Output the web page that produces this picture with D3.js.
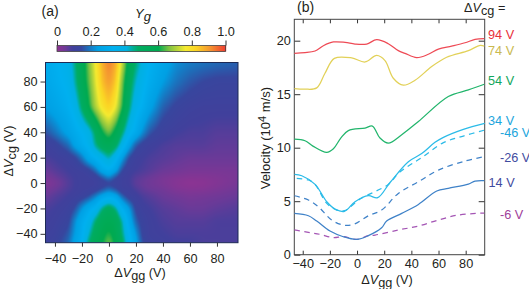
<!DOCTYPE html>
<html>
<head>
<meta charset="utf-8">
<script src="https://cdn.jsdelivr.net/npm/d3@7"></script>
<style>
    html, body { margin: 0; padding: 0; background: #fff; }
    svg { display: block; }
    text { font-family: "Liberation Sans", Arial, sans-serif; fill: #231f20; }
</style>
</head>
<body>
<div id="chart"></div>
<script>
// (a) map on a hand picked grid
const vggGrid = [-47, -40, -30, -25, -20, -15, -10, -5, 0, 5, 10, 15, 20, 25, 30, 40, 50, 60, 70, 80, 95];
const vcgGrid = [95, 80, 60, 40, 30, 20, 10, 5, 0, -5, -10, -20, -30, -40, -47];
const yg = [
    [.30, .32, .37, .46, .55, .66, .76, .87, .93, .88, .72, .56, .47, .40, .33, .27, .22, .20, .19, .18, .17],
    [.28, .31, .35, .44, .55, .64, .74, .85, .90, .84, .66, .52, .42, .36, .31, .24, .19, .16, .14, .13, .13],
    [.24, .27, .32, .37, .48, .60, .70, .78, .83, .76, .62, .47, .36, .32, .26, .17, .13, .11, .10, .10, .10],
    [.15, .19, .26, .30, .33, .38, .48, .60, .66, .58, .47, .36, .30, .22, .16, .11, .09, .08, .08, .07, .07],
    [.10, .12, .18, .26, .31, .35, .45, .52, .55, .50, .38, .26, .16, .12, .10, .08, .07, .07, .07, .06, .06],
    [.08, .09, .11, .13, .19, .28, .33, .38, .44, .36, .24, .14, .10, .09, .08, .07, .06, .05, .05, .05, .05],
    [.05, .07, .09, .10, .10, .12, .18, .28, .32, .26, .14, .10, .09, .08, .07, .05, .04, .03, .03, .03, .03],
    [.03, .05, .08, .09, .10, .10, .11, .16, .22, .15, .10, .09, .07, .06, .05, .03, .02, .015, .015, .02, .03],
    [.015, .03, .07, .09, .10, .10, .10, .11, .12, .11, .10, .09, .06, .05, .04, .025, .01, 0, .005, .015, .03],
    [.03, .05, .08, .09, .10, .10, .11, .15, .19, .15, .10, .10, .08, .06, .05, .04, .02, .015, .015, .025, .04],
    [.05, .07, .09, .10, .11, .14, .20, .26, .30, .27, .17, .11, .10, .08, .07, .05, .04, .03, .035, .04, .05],
    [.08, .09, .11, .15, .23, .30, .34, .46, .52, .46, .32, .24, .13, .10, .09, .07, .06, .05, .05, .06, .07],
    [.09, .10, .13, .22, .30, .36, .47, .55, .57, .55, .44, .29, .17, .12, .10, .08, .07, .07, .07, .08, .08],
    [.10, .11, .16, .24, .31, .42, .52, .58, .62, .57, .46, .34, .23, .13, .10, .09, .08, .08, .08, .08, .08],
    [.11, .12, .18, .27, .33, .47, .55, .60, .66, .59, .50, .36, .26, .15, .11, .10, .09, .09, .08, .08, .08]
];

const cmapStops = [0, .05, .09, .14, .18, .24, .33, .41, .45, .48, .6, .66, .76, .82, .9, 1];
const cmapColors = ['#8e3392', '#6a3a98', '#41409c', '#38469e', '#1f6cb8', '#00a0e4', '#00b0f0', '#00b0e0', '#00ae90',
    '#00ac62', '#00aa50', '#7cc242', '#f5ea30', '#fbd524', '#f59a30', '#ef3a30'];
const barTicks = [0, 0.2, 0.4, 0.6, 0.8, 1.0];

// (b) velocity curves, [vgg, velocity]
const curve94 = [[-46.1, 18.82], [-38.3, 18.88], [-30.9, 19.04], [-24.8, 19.53], [-17.4, 19.88], [-8.8, 19.84], [-1.5, 19.69],
    [7.1, 19.69], [14.5, 20.09], [23, 19.72], [30.4, 19.07], [35.3, 18.82], [43.9, 18.42], [52.5, 18.73], [59.9, 19.22],
    [69.7, 19.5], [79.5, 19.81], [86.9, 20.12], [93.7, 20.2]];
const curve74 = [[-46.1, 15.53], [-38.3, 15.47], [-29.7, 15.59], [-23.6, 16.96], [-16.7, 18.35], [-3.9, 18.39], [5.9, 18.01],
    [14.5, 18.63], [20.6, 18.14], [26.7, 16.49], [34.1, 15.84], [42.7, 16.3], [55, 17.58], [66, 18.45], [82, 19.07],
    [90.6, 19.57], [93.7, 19.5]];
const curve54 = [[-46.1, 10.8], [-38.3, 10.65], [-32.5, 10.15], [-22.3, 9.56], [-17.4, 9.9], [-12, 10.9], [-6.4, 11.6], [5.9, 11.83],
    [11.3, 12.02], [16.9, 10.9], [23, 10.43], [32.9, 11.21], [45.2, 12.45], [67.2, 14.78], [82, 15.4], [93.7, 15.93]];
const curve34 = [[-46.1, 7.5], [-40.7, 7.38], [-30.9, 6.57], [-22.3, 4.95], [-16.2, 4.27], [-9.3, 4.05], [-1.5, 4.95], [8.3, 5.51],
    [15.2, 5.33], [24.3, 6.75], [37.8, 8.69], [47.6, 9.45], [57.4, 10.5], [63.6, 10.97], [78.3, 11.72], [94, 12.28]];
const curveM46 = [[-44.4, 7.13], [-35.8, 6.98], [-30.9, 6.57], [-22.3, 4.8], [-15, 4.17], [-9.3, 4.11], [2.2, 5.2], [23, 6.57],
    [30.4, 7.6], [38.9, 8.38], [47.6, 9.07], [63.6, 10.47], [78.3, 11.09], [94, 11.65]];
const curveM26 = [[-46.1, 5.51], [-35.8, 5.11], [-28.5, 4.49], [-18.7, 3.24], [-10.1, 2.77], [-2.7, 2.83], [8.3, 3.64], [18.1, 4.17],
    [30.4, 5.73], [45.2, 6.82], [59.9, 7.91], [79.5, 8.75], [93.7, 9.16]];
const curve14 = [[-46.1, 3.86], [-35.8, 3.64], [-29.7, 3.15], [-19.9, 2.21], [-10.1, 1.68], [-0.2, 1.43], [8.3, 1.78], [18.1, 2.52],
    [21.8, 3.15], [32.9, 3.86], [45.2, 4.7], [58.7, 5.95], [67.2, 6.2], [82, 6.6], [86.9, 6.88], [93.7, 6.92]];
const curveM6 = [[-46.1, 2.31], [-35.8, 2.09], [-27.2, 1.9], [-17.4, 1.59], [-10.1, 1.68], [-0.2, 1.43], [8.3, 1.78], [13.3, 1.84], [30.4, 2.31],
    [45.2, 2.68], [59.9, 3.24], [74.6, 3.71], [93.7, 3.89]];

const width = 529;
const height = 289;

const svg = d3.select('#chart').append('svg').attr('width', width).attr('height', height);

const color = d3.scaleLinear().domain(cmapStops).range(cmapColors).clamp(true);

// ---------- panel a ----------
const mapBox = { left: 45.5, right: 238, top: 62.5, bottom: 242.7 };
const xMap = d3.scaleLinear().domain([-47, 95.6]).range([mapBox.left, mapBox.right]);
const yMap = d3.scaleLinear().domain([-47, 95]).range([mapBox.bottom, mapBox.top]);

// blend the grid per pixel, then soften it a bit so the grid does not show
const mapW = Math.round(mapBox.right - mapBox.left);
const mapH = Math.round(mapBox.bottom - mapBox.top);
const vcgAsc = vcgGrid.slice().reverse();
const ygAsc = yg.slice().reverse();
const lookup = (vgg, vcg) => {
    const i = Math.min(Math.max(d3.bisectRight(vggGrid, vgg) - 1, 0), vggGrid.length - 2);
    const j = Math.min(Math.max(d3.bisectRight(vcgAsc, vcg) - 1, 0), vcgAsc.length - 2);
    const tx = (vgg - vggGrid[i]) / (vggGrid[i + 1] - vggGrid[i]);
    const ty = (vcg - vcgAsc[j]) / (vcgAsc[j + 1] - vcgAsc[j]);
    const a = ygAsc[j][i] * (1 - tx) + ygAsc[j][i + 1] * tx;
    const b = ygAsc[j + 1][i] * (1 - tx) + ygAsc[j + 1][i + 1] * tx;
    return a * (1 - ty) + b * ty;
};
let field = new Float64Array(mapW * mapH);
for (let py = 0; py < mapH; py++) {
    for (let px = 0; px < mapW; px++) {
        field[py * mapW + px] = lookup(xMap.invert(mapBox.left + px + 0.5), yMap.invert(mapBox.top + py + 0.5));
    }
}
const boxPass = (src, rx, ry) => {
    const out = new Float64Array(mapW * mapH);
    for (let py = 0; py < mapH; py++) {
        for (let px = 0; px < mapW; px++) {
            let sum = 0;
            let n = 0;
            for (let dy = -ry; dy <= ry; dy++) {
                for (let dx = -rx; dx <= rx; dx++) {
                    const qx = Math.min(Math.max(px + dx, 0), mapW - 1);
                    const qy = Math.min(Math.max(py + dy, 0), mapH - 1);
                    sum += src[qy * mapW + qx];
                    n++;
                }
            }
            out[py * mapW + px] = sum / n;
        }
    }
    return out;
};
field = boxPass(boxPass(field, 2, 3), 1, 2);

const canvas = document.createElement('canvas');
canvas.width = mapW;
canvas.height = mapH;
const ctx = canvas.getContext('2d');
for (let py = 0; py < mapH; py++) {
    for (let px = 0; px < mapW; px++) {
        ctx.fillStyle = color(field[py * mapW + px]);
        ctx.fillRect(px, py, 1, 1);
    }
}
svg.append('image')
    .attr('x', mapBox.left)
    .attr('y', mapBox.top)
    .attr('width', mapBox.right - mapBox.left)
    .attr('height', mapBox.bottom - mapBox.top)
    .attr('preserveAspectRatio', 'none')
    .attr('href', canvas.toDataURL());

svg.append('rect')
    .attr('x', mapBox.left)
    .attr('y', mapBox.top)
    .attr('width', mapBox.right - mapBox.left)
    .attr('height', mapBox.bottom - mapBox.top)
    .attr('fill', 'none')
    .attr('stroke', '#1d2a55')
    .attr('stroke-width', 1);

const styleAxis = (g, size) => {
    g.select('.domain').remove();
    g.selectAll('.tick line').attr('stroke', '#333').attr('stroke-width', 1);
    g.selectAll('.tick text')
        .style('font-family', '"Liberation Sans", Arial, sans-serif')
        .style('font-size', size + 'px')
        .attr('fill', '#231f20');
};

svg.append('g')
    .attr('transform', `translate(0, ${mapBox.bottom})`)
    .call(d3.axisBottom(xMap).tickValues([-40, -20, 0, 20, 40, 60, 80]).tickFormat(d3.format('d')).tickSize(4).tickPadding(7))
    .call(styleAxis, 12.7);
svg.append('g')
    .attr('transform', `translate(${mapBox.left}, 0)`)
    .call(d3.axisLeft(yMap).tickValues([-40, -20, 0, 20, 40, 60, 80]).tickFormat(d3.format('d')).tickSize(5).tickPadding(3))
    .call(styleAxis, 12.7);

// colour bar
const barBox = { left: 57, right: 225.5, top: 45.5, bottom: 51.5 };
const xBar = d3.scaleLinear().domain([0, 1]).range([barBox.left, barBox.right]);
const barSteps = d3.range(barBox.left, barBox.right, 1);
svg.append('g').selectAll('rect')
    .data(barSteps)
    .enter()
    .append('rect')
    .attr('x', (d) => d)
    .attr('y', barBox.top)
    .attr('width', 1.2)
    .attr('height', barBox.bottom - barBox.top)
    .attr('fill', (d) => color(xBar.invert(d)));
svg.append('rect')
    .attr('x', barBox.left)
    .attr('y', barBox.top)
    .attr('width', barBox.right - barBox.left)
    .attr('height', barBox.bottom - barBox.top)
    .attr('fill', 'none')
    .attr('stroke', '#444')
    .attr('stroke-width', 0.8);
svg.append('g')
    .attr('transform', `translate(0, ${barBox.top})`)
    .call(d3.axisTop(xBar).tickValues(barTicks).tickFormat((d) => (d === 0 ? '0' : d.toFixed(1))).tickSize(5).tickPadding(4.5))
    .call(styleAxis, 12.7);

// text helper, parts are [string, italic, subscript]
const addLabel = (x, y, parts, opts = {}) => {
    const t = svg.append('text')
        .attr('x', 0)
        .attr('y', 0)
        .attr('transform', `translate(${x}, ${y})` + (opts.rotate ? ` rotate(${opts.rotate})` : ''))
        .attr('text-anchor', opts.anchor || 'start')
        .style('font-size', (opts.size || 12.7) + 'px');
    if (opts.fill) t.style('fill', opts.fill);
    let shift = 0;
    parts.forEach((p) => {
        const span = t.append('tspan').text(p[0]);
        if (p[1]) span.style('font-style', 'italic');
        const target = p[2] === 'sub' ? 3 : p[2] === 'sup' ? -4.5 : 0;
        span.attr('dy', target - shift);
        shift = target;
        if (p[2] === 'sup') span.style('font-size', (opts.size || 12.7) * 0.85 + 'px');
    });
    return t;
};

addLabel(41.5, 16, [['(a)']], { size: 14 });
addLabel(135, 18, [['Y', true], ['g', true, 'sub']], { size: 13 });
addLabel(140, 277, [['Δ'], ['V', true], ['gg', false, 'sub'], [' (V)']], { anchor: 'middle' });
addLabel(12.5, 151, [['Δ'], ['V', true], ['cg', false, 'sub'], [' (V)']], { anchor: 'middle', rotate: -90 });

// ---------- panel b ----------
const lineBox = { left: 294.3, right: 484.7, top: 19.3, bottom: 254.7 };
const xLine = d3.scaleLinear().domain([-46.2, 94]).range([lineBox.left, lineBox.right]);
const yLine = d3.scaleLinear().domain([0, 22]).range([lineBox.bottom, lineBox.top]);

const xTicks = [-40, -20, 0, 20, 40, 60, 80];
const yTicks = [0, 5, 10, 15, 20];

svg.append('g')
    .attr('transform', `translate(0, ${lineBox.bottom})`)
    .call(d3.axisBottom(xLine).tickValues(xTicks).tickFormat(d3.format('d')).tickSize(-4).tickPadding(4.5))
    .call(styleAxis, 12.7);
svg.append('g')
    .attr('transform', `translate(0, ${lineBox.top})`)
    .call(d3.axisTop(xLine).tickValues(xTicks).tickFormat('').tickSize(-4))
    .call(styleAxis, 12.7);
svg.append('g')
    .attr('transform', `translate(${lineBox.left}, 0)`)
    .call(d3.axisLeft(yLine).tickValues(yTicks).tickFormat(d3.format('d')).tickSize(-6).tickPadding(3.5))
    .call(styleAxis, 12.7);
svg.append('g')
    .attr('transform', `translate(${lineBox.right}, 0)`)
    .call(d3.axisRight(yLine).tickValues(yTicks).tickFormat('').tickSize(-6))
    .call(styleAxis, 12.7);
svg.append('rect')
    .attr('x', lineBox.left)
    .attr('y', lineBox.top)
    .attr('width', lineBox.right - lineBox.left)
    .attr('height', lineBox.bottom - lineBox.top)
    .attr('fill', 'none')
    .attr('stroke', '#444')
    .attr('stroke-width', 1);

const line = d3.line()
    .x((d) => xLine(d[0]))
    .y((d) => yLine(d[1]))
    .curve(d3.curveCatmullRom.alpha(0.5));

const drawCurve = (data, stroke, dash) => {
    svg.append('path')
        .datum(data)
        .attr('fill', 'none')
        .attr('stroke', stroke)
        .attr('stroke-width', 1.25)
        .attr('stroke-dasharray', dash ? '5.5,4.5' : null)
        .attr('d', line);
};

drawCurve(curveM6, '#a455b4', true);
drawCurve(curveM26, '#3f82c8', true);
drawCurve(curveM46, '#2bbbe8', true);
drawCurve(curve14, '#3f82c8', false);
drawCurve(curve34, '#2bbbe8', false);
drawCurve(curve54, '#22b56c', false);
drawCurve(curve74, '#e2d158', false);
drawCurve(curve94, '#ee4a55', false);

addLabel(297, 12, [['(b)']], { size: 14 });
addLabel(464, 12, [['Δ'], ['V', true], ['cg', false, 'sub'], [' =']]);
addLabel(387, 284, [['Δ'], ['V', true], ['gg', false, 'sub'], [' (V)']], { anchor: 'middle' });
addLabel(270, 138, [['Velocity (10'], ['4', false, 'sup'], [' m/s)']], { anchor: 'middle', rotate: -90, size: 13 });

addLabel(488, 39, [['94 V']], { fill: '#e8303a' });
addLabel(488, 55, [['74 V']], { fill: '#c9b94f' });
addLabel(488, 85, [['54 V']], { fill: '#12a65c' });
addLabel(488, 125, [['34 V']], { fill: '#1ca5dc' });
addLabel(500, 137, [['-46 V']], { fill: '#1ca5dc' });
addLabel(500, 162, [['-26 V']], { fill: '#3f4ba0' });
addLabel(488.5, 187, [['14 V']], { fill: '#3f4ba0' });
addLabel(500, 219, [['-6 V']], { fill: '#a0409a' });
</script>
</body>
</html>
